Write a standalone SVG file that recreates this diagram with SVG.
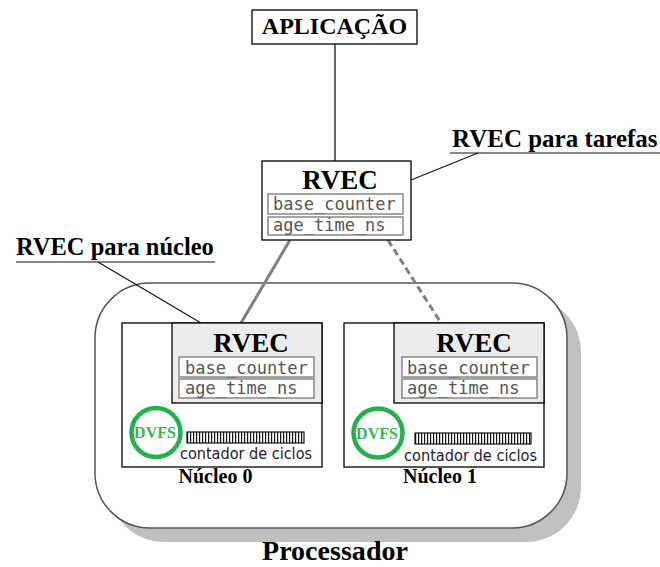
<svg xmlns="http://www.w3.org/2000/svg" width="660" height="567" viewBox="0 0 660 567">
<defs>
<pattern id="stripes" x="187" y="0" width="3" height="20" patternUnits="userSpaceOnUse">
<rect x="0" y="0" width="3" height="20" fill="#fff"/>
<rect x="0" y="0" width="1.2" height="20" fill="#111"/>
</pattern>
<pattern id="stripes1" x="415" y="0" width="3" height="20" patternUnits="userSpaceOnUse">
<rect x="0" y="0" width="3" height="20" fill="#fff"/>
<rect x="0" y="0" width="1.2" height="20" fill="#111"/>
</pattern>
</defs>
<style>
.serif{font-family:"Liberation Serif","Times New Roman",serif;font-weight:bold;fill:#000}
.mono{font-family:"DejaVu Sans Mono","Liberation Mono",monospace;font-size:17px;fill:#555}
.sans{font-family:"DejaVu Sans","Liberation Sans",sans-serif;font-size:16px;fill:#1a1a33}
.field{fill:#fff;stroke:#888;stroke-width:1.5}
.box{fill:#fff;stroke:#000;stroke-width:1.3}
.gray{fill:#ececec;stroke:#000;stroke-width:1.3}
.dvfs{fill:none;stroke:#22b14c;stroke-width:4.5}
.dvfst{font-family:"Liberation Serif","Times New Roman",serif;font-weight:bold;font-size:16px;fill:#3cb44b}
.lead{stroke:#111;stroke-width:1.2;fill:none}
</style>

<g id="processador">
<rect x="109" y="297" width="472" height="245" rx="55" fill="#c0c0c0"/>
<rect x="95" y="283" width="472" height="245" rx="55" fill="#fff" stroke="#555" stroke-width="1.5"/>
<text class="serif" x="335" y="560" font-size="27" text-anchor="middle" textLength="146" lengthAdjust="spacingAndGlyphs">Processador</text>
</g>

<g id="connectors">
<line x1="335" y1="44" x2="335" y2="161" stroke="#333" stroke-width="1.5"/>
<line x1="290" y1="240" x2="241" y2="323" stroke="#808080" stroke-width="3"/>
<line x1="388" y1="240" x2="441" y2="323" stroke="#808080" stroke-width="3" stroke-dasharray="7,4"/>
<line x1="241" y1="403" x2="241" y2="432" stroke="#000" stroke-width="1.2"/>
<line x1="471" y1="403" x2="471" y2="432" stroke="#000" stroke-width="1.2"/>
</g>

<g id="aplicacao">
<rect class="box" x="252" y="10" width="165" height="34"/>
<text class="serif" x="334.5" y="34" font-size="24" text-anchor="middle">APLICAÇÃO</text>
</g>

<g id="rvec-tarefas">
<rect class="box" x="262" y="161" width="149" height="79"/>
<text class="serif" x="340" y="189" font-size="27" text-anchor="middle">RVEC</text>
<rect class="field" x="268" y="194" width="135" height="20"/>
<text class="mono" x="273" y="210">base_counter</text>
<rect class="field" x="268" y="217" width="135" height="18"/>
<text class="mono" x="273" y="231">age_time_ns</text>
</g>

<g id="label-tarefas">
<text class="serif" x="452" y="147" font-size="25">RVEC para tarefas</text>
<line x1="450" y1="153" x2="660" y2="153" class="lead"/>
<line x1="478" y1="153" x2="411" y2="180" class="lead"/>
</g>

<g id="label-nucleo">
<text class="serif" x="16" y="255" font-size="24.5">RVEC para núcleo</text>
<line x1="16" y1="262" x2="215" y2="262" class="lead"/>
<line x1="98" y1="262" x2="201" y2="323" class="lead"/>
</g>

<g id="nucleo0">
<rect class="box" x="122" y="323" width="200" height="144"/>
<rect class="gray" x="172" y="323" width="150" height="80"/>
<text class="serif" x="251" y="352" font-size="27" text-anchor="middle">RVEC</text>
<rect class="field" x="179" y="357" width="135" height="20"/>
<text class="mono" x="185" y="374">base_counter</text>
<rect class="field" x="179" y="379" width="135" height="19"/>
<text class="mono" x="185" y="394">age_time_ns</text>
<circle class="dvfs" cx="156" cy="432.5" r="24.5"/>
<text class="dvfst" x="155" y="438" text-anchor="middle">DVFS</text>
<rect x="187" y="432" width="117" height="11" fill="url(#stripes)" stroke="#111" stroke-width="1.2"/>
<text class="sans" x="180" y="459" textLength="132" lengthAdjust="spacingAndGlyphs">contador de ciclos</text>
<text class="serif" x="215.5" y="483" font-size="20" text-anchor="middle">Núcleo 0</text>
</g>

<g id="nucleo1">
<rect class="box" x="344" y="323" width="200" height="144"/>
<rect class="gray" x="394" y="323" width="150" height="80"/>
<text class="serif" x="474" y="352" font-size="27" text-anchor="middle">RVEC</text>
<rect class="field" x="402" y="357" width="135" height="20"/>
<text class="mono" x="407" y="374">base_counter</text>
<rect class="field" x="402" y="379" width="135" height="19"/>
<text class="mono" x="407" y="394">age_time_ns</text>
<circle class="dvfs" cx="378" cy="433" r="24.5"/>
<text class="dvfst" x="377" y="438.5" text-anchor="middle">DVFS</text>
<rect x="415" y="433" width="116" height="11" fill="url(#stripes1)" stroke="#111" stroke-width="1.2"/>
<text class="sans" x="404" y="461" textLength="133" lengthAdjust="spacingAndGlyphs">contador de ciclos</text>
<text class="serif" x="440" y="483" font-size="20" text-anchor="middle">Núcleo 1</text>
</g>
</svg>
